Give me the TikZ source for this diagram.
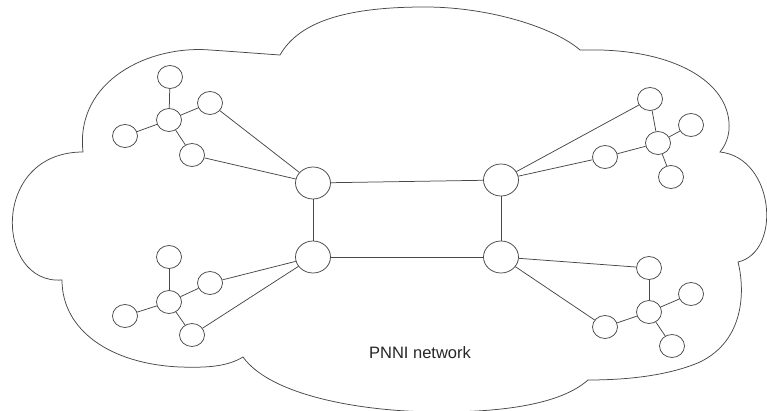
\documentclass[tikz,border=0pt]{standalone}
\usepackage{fontspec}
\setmainfont{Liberation Sans}
\usetikzlibrary{shapes.geometric}

\tikzset{
  ink/.style={draw=black!72, line width=0.75pt},
  leaf/.style={ink, ellipse, inner sep=0pt, minimum width=25pt, minimum height=23pt},
  switch/.style={ink, ellipse, inner sep=0pt, minimum width=35pt, minimum height=32pt},
  wire/.style={ink},
}

\begin{document}
\begin{tikzpicture}[x=1pt, y=-1pt]
  \useasboundingbox (0,0) rectangle (767,411);

  % network cloud
  \draw[ink, line join=miter]
    (280,55) .. controls (300,20) and (350,7) .. (425,7)
             .. controls (490,7) and (555,28) .. (580,50)
    -- (600,50) .. controls (680,52) and (732,85) .. (729,130)
             .. controls (728,140) and (724,147) .. (720,152)
             .. controls (775,158) and (782,252) .. (738,262)
             .. controls (745,290) and (745,340) .. (700,362)
             .. controls (670,375) and (630,380) .. (588,380)
             .. controls (560,405) and (500,412) .. (440,412)
             .. controls (360,412) and (270,395) .. (243,357)
             .. controls (228,366) and (210,368) .. (180,367)
             .. controls (110,364) and (62,330) .. (62,280)
             .. controls (-5,285) and (-10,152) .. (83,152)
             .. controls (75,80) and (150,45) .. (210,50)
             .. controls (240,52) and (265,54) .. cycle;

  % core switches
  \node[switch] (sw-nw) at (313,183) {};
  \node[switch] (sw-sw) at (313,257) {};
  \node[switch] (sw-ne) at (501,180) {};
  \node[switch] (sw-se) at (501,257) {};

  % upper-left cluster
  \node[leaf] (a-hub) at (169,120) {};
  \node[leaf] (a-top) at (170,77) {};
  \node[leaf] (a-rt)  at (210,103) {};
  \node[leaf] (a-lf)  at (125,136) {};
  \node[leaf] (a-bt)  at (192,155) {};

  % lower-left cluster
  \node[leaf] (b-hub) at (169,302) {};
  \node[leaf] (b-top) at (169,257) {};
  \node[leaf] (b-rt)  at (210,283) {};
  \node[leaf] (b-lf)  at (125,316) {};
  \node[leaf] (b-bt)  at (192,335) {};

  % upper-right cluster
  \node[leaf] (c-hub) at (658,143) {};
  \node[leaf] (c-top) at (650,99) {};
  \node[leaf] (c-rt)  at (691,125) {};
  \node[leaf] (c-lf)  at (605,157) {};
  \node[leaf] (c-bt)  at (671,177) {};

  % lower-right cluster
  \node[leaf] (d-hub) at (649,312) {};
  \node[leaf] (d-top) at (649,268) {};
  \node[leaf] (d-rt)  at (691,294) {};
  \node[leaf] (d-lf)  at (605,327) {};
  \node[leaf] (d-bt)  at (672,346) {};

  % core links
  \draw[wire] (sw-nw) -- (sw-ne);
  \draw[wire] (sw-sw) -- (sw-se);
  \draw[wire] (sw-nw) -- (sw-sw);
  \draw[wire] (sw-ne) -- (sw-se);

  % cluster stars
  \foreach \c in {a,b,c,d} {
    \draw[wire] (\c-hub) -- (\c-top);
    \draw[wire] (\c-hub) -- (\c-rt);
    \draw[wire] (\c-hub) -- (\c-lf);
    \draw[wire] (\c-hub) -- (\c-bt);
  }

  % uplinks to the core
  \draw[wire] (a-rt) -- (sw-nw);
  \draw[wire] (a-bt) -- (sw-nw);
  \draw[wire] (b-rt) -- (sw-sw);
  \draw[wire] (b-bt) -- (sw-sw);
  \draw[wire] (c-top) -- (sw-ne);
  \draw[wire] (c-lf) -- (sw-ne);
  \draw[wire] (d-top) -- (sw-se);
  \draw[wire] (d-lf) -- (sw-se);

  \node[font=\fontsize{16.5}{18}\selectfont, text=black!85] (label) at (420,353) {PNNI network};
\end{tikzpicture}
\end{document}
